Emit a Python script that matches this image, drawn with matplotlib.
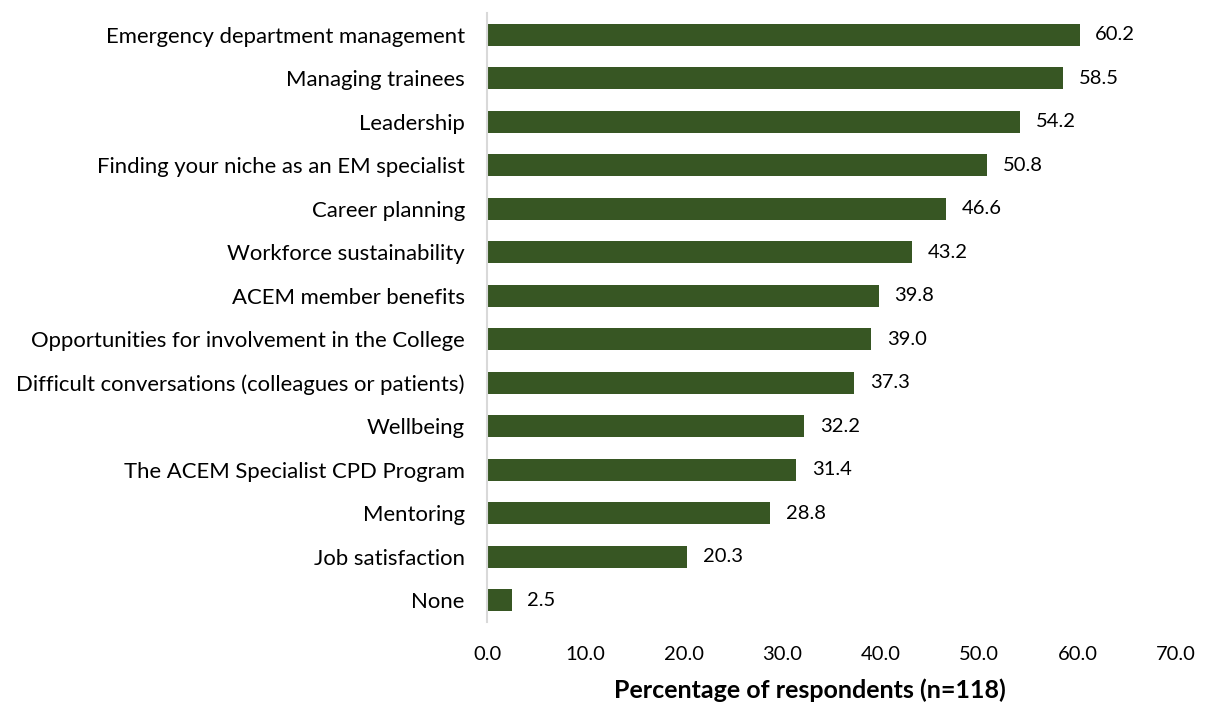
import matplotlib
matplotlib.use("Agg")
import matplotlib.pyplot as plt

plt.rcParams['font.family'] = ['Lato', 'DejaVu Sans']

categories = ["Emergency department management", "Managing trainees", "Leadership",
              "Finding your niche as an EM specialist", "Career planning",
              "Workforce sustainability", "ACEM member benefits",
              "Opportunities for involvement in the College",
              "Difficult conversations (colleagues or patients)", "Wellbeing",
              "The ACEM Specialist CPD Program", "Mentoring", "Job satisfaction", "None"]
values = [60.2, 58.5, 54.2, 50.8, 46.6, 43.2, 39.8, 39.0, 37.3, 32.2, 31.4, 28.8, 20.3, 2.5]
xticks = [0, 10, 20, 30, 40, 50, 60, 70]

fig = plt.figure(figsize=(12.1, 7.05), dpi=100)
ax = fig.add_axes([0.4025, 0.1177, 0.5694, 0.8638])

pos = list(range(len(categories)))[::-1]
ax.barh(pos, values, height=0.5, color='#375623')
for p, v in zip(pos, values):
    ax.text(v + 1.6, p, f"{v:.1f}", va='center', ha='left', fontsize=14.5)

ax.set_yticks(pos)
ax.set_yticklabels(categories, fontsize=15.9)
ax.set_xticks(xticks)
ax.set_xticklabels([f"{x:.1f}" for x in xticks], fontsize=14.5)
ax.set_xlim(0, 70)
ax.set_ylim(-0.5, len(categories) - 0.5)
ax.tick_params(length=0)
ax.tick_params(axis='x', pad=17)
ax.tick_params(axis='y', pad=16)
for s in ['top', 'right', 'bottom']:
    ax.spines[s].set_visible(False)
ax.spines['left'].set_color('#d9d9d9')
ax.spines['left'].set_linewidth(1.5)
ax.set_xlabel("Percentage of respondents (n=118)", fontsize=18, fontweight='bold')
ax.xaxis.set_label_coords(0.469, -0.093)

fig.savefig("out.png", dpi=100)
